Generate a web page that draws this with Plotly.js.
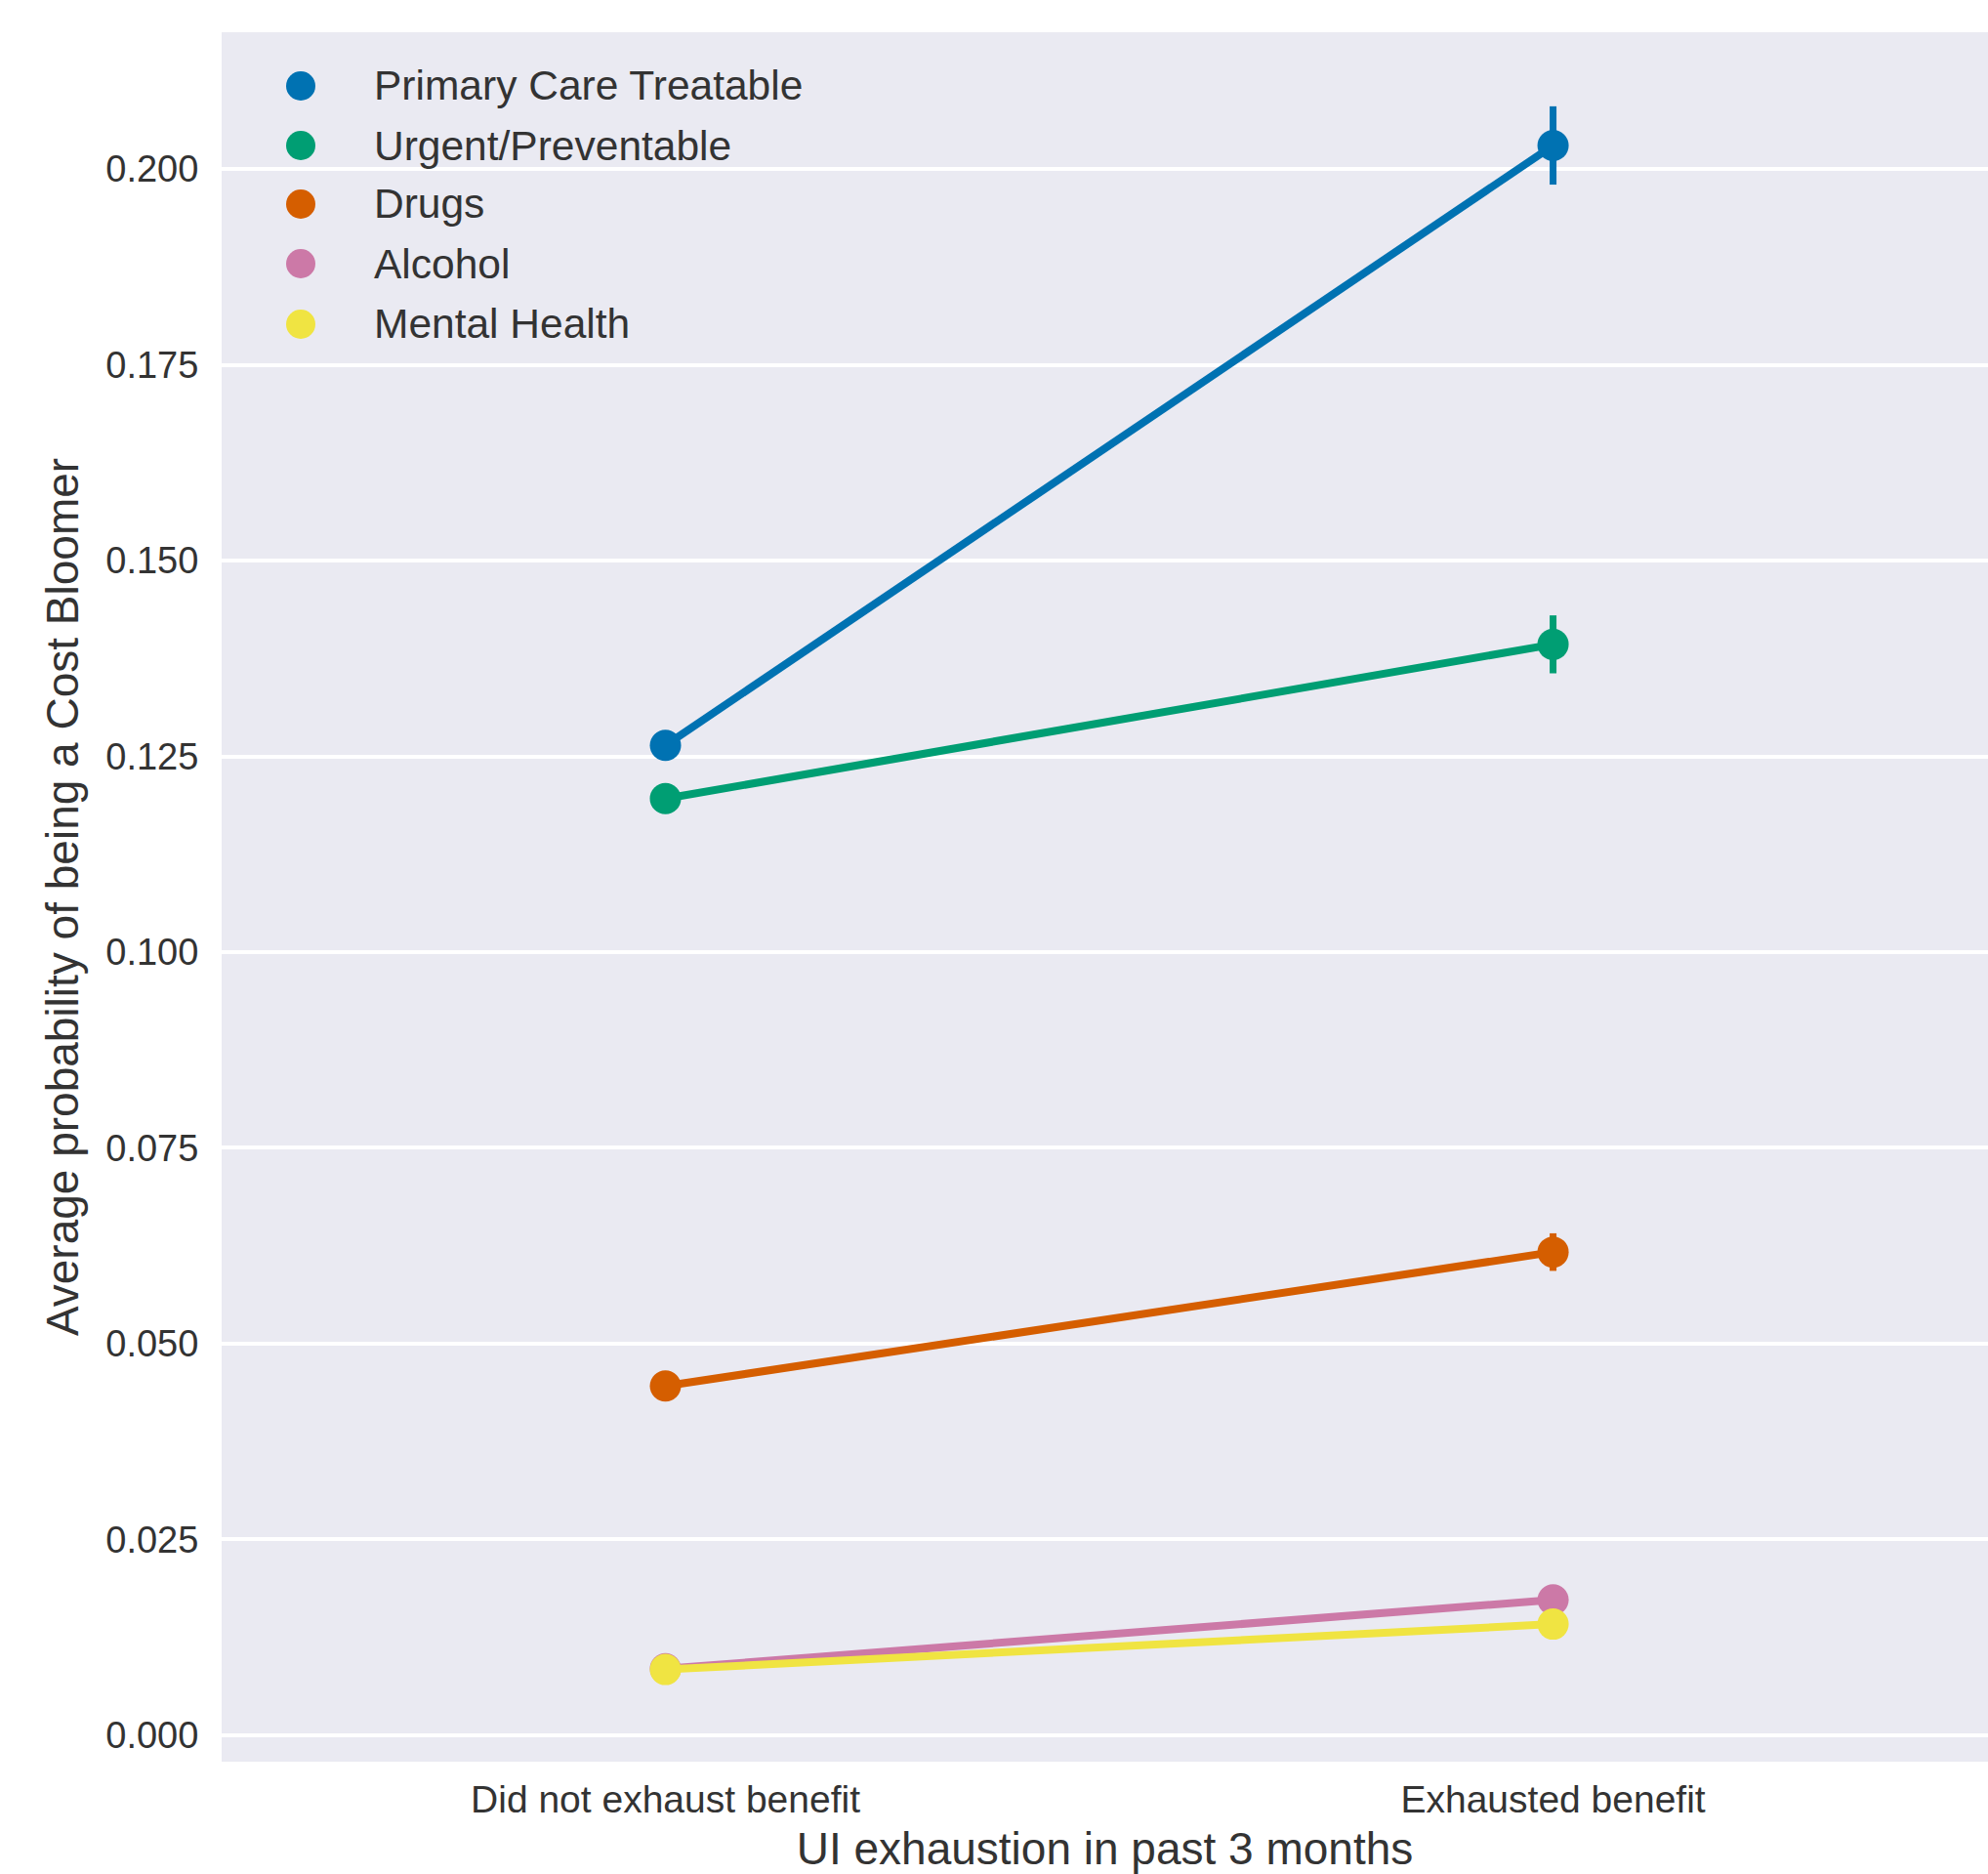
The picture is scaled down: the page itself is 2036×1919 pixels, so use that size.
<!DOCTYPE html>
<html>
<head>
<meta charset="utf-8">
<script src="https://cdn.plot.ly/plotly-3.0.1.min.js"></script>
<style>html,body{margin:0;padding:0;background:#fff;}#chart{width:2036px;height:1919px;}</style>
</head>
<body>
<div id="chart"></div>
<script>
// ---- data ----
const categories = ["Did not exhaust benefit", "Exhausted benefit"];
const seriesNames = ["Primary Care Treatable", "Urgent/Preventable", "Drugs", "Alcohol", "Mental Health"];
const primaryCare = [0.1264, 0.2030];
const primaryCareErr = [0.0010, 0.0050];
const urgentPrev = [0.1196, 0.1393];
const urgentPrevErr = [0.0010, 0.0037];
const drugs = [0.0446, 0.0617];
const drugsErr = [0.0008, 0.0024];
const alcohol = [0.0085, 0.0173];
const alcoholErr = [0.0005, 0.0015];
const mentalHealth = [0.0084, 0.0142];
const mentalHealthErr = [0.0005, 0.0012];
const yTickVals = [0, 0.025, 0.05, 0.075, 0.1, 0.125, 0.15, 0.175, 0.2];
const colors = ["#0072B2", "#009E73", "#D55E00", "#CC79A7", "#F0E442"];

const seriesValues = [primaryCare, urgentPrev, drugs, alcohol, mentalHealth];
const seriesErrs = [primaryCareErr, urgentPrevErr, drugsErr, alcoholErr, mentalHealthErr];

const FONT = "Liberation Sans, Arial, sans-serif";
const TXT = "#333333";

const traces = seriesNames.map((name, i) => ({
  type: "scatter",
  mode: "lines+markers",
  name: name,
  x: [0, 1],
  y: seriesValues[i],
  line: {color: colors[i], width: 8},
  marker: {color: colors[i], size: 32},
  error_y: {type: "data", array: seriesErrs[i], visible: true, color: colors[i], thickness: 7, width: 0},
  showlegend: false,
  hoverinfo: "skip"
}));

// ---- manual legend (layout decoration) ----
const W = 2036, H = 1919;
const mL = 227, mR = 0, mT = 33, mB = 115;
const plotW = W - mL - mR, plotH = H - mT - mB;
const legendRowsPx = [88, 149, 209, 270, 332];
const legendMarkerX = 308, legendTextX = 381;
const shapes = [];
const annotations = [];
seriesNames.forEach((name, i) => {
  const yp = (H - mB - legendRowsPx[i]) / plotH;
  const xp = (legendMarkerX - mL) / plotW;
  shapes.push({
    type: "circle", xref: "paper", yref: "paper",
    xsizemode: "pixel", ysizemode: "pixel",
    xanchor: xp, yanchor: yp,
    x0: -15, x1: 15, y0: -15, y1: 15,
    fillcolor: colors[i], line: {width: 0}
  });
  annotations.push({
    xref: "paper", yref: "paper",
    x: (legendTextX - mL) / plotW, y: yp,
    xanchor: "left", yanchor: "middle",
    text: name, showarrow: false,
    font: {family: FONT, size: 42.5, color: TXT}
  });
});

const layout = {
  width: W, height: H,
  margin: {l: mL, r: mR, t: mT, b: mB},
  paper_bgcolor: "#ffffff",
  plot_bgcolor: "#EAEAF2",
  font: {family: FONT, color: TXT},
  showlegend: false,
  xaxis: {
    range: [-0.5, 1.49],
    tickmode: "array",
    tickvals: [0, 1],
    ticktext: categories,
    showgrid: false,
    zeroline: false,
    showline: false,
    ticks: "outside", ticklen: 4, tickcolor: "rgba(0,0,0,0)",
    tickfont: {family: FONT, size: 39, color: TXT},
    title: {text: "UI exhaustion in past 3 months", font: {family: FONT, size: 46, color: TXT}, standoff: 29},
    automargin: false
  },
  yaxis: {
    range: [-0.00337, 0.21746],
    tickmode: "array",
    tickvals: yTickVals,
    tickformat: ".3f",
    showgrid: true, gridcolor: "#ffffff", gridwidth: 4,
    zeroline: false, showline: false,
    ticks: "outside", ticklen: 15, tickcolor: "rgba(0,0,0,0)",
    tickfont: {family: FONT, size: 38, color: TXT},
    title: {text: "Average probability of being a Cost Bloomer", font: {family: FONT, size: 46, color: TXT}, standoff: 13},
    automargin: false
  },
  shapes: shapes,
  annotations: annotations
};

Plotly.newPlot("chart", traces, layout, {staticPlot: true, displayModeBar: false});
</script>
</body>
</html>
